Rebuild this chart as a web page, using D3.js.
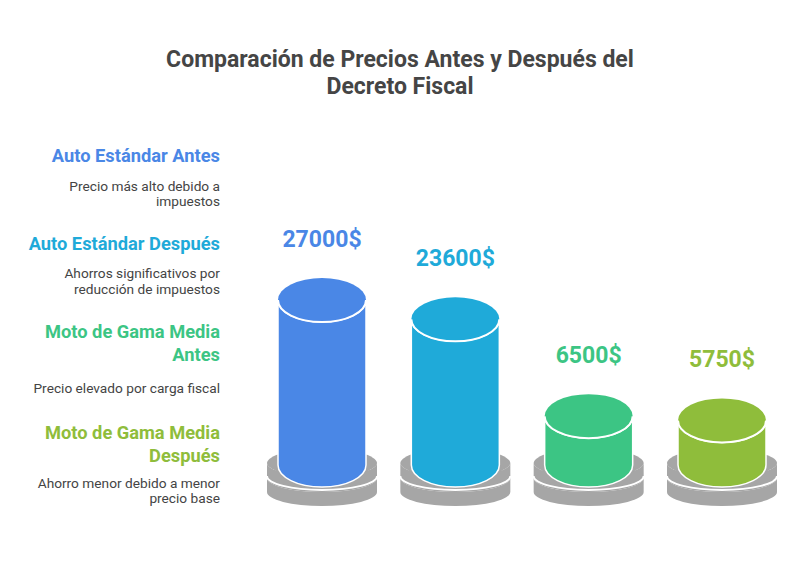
<!DOCTYPE html>
<html><head><meta charset="utf-8">
<script src="https://cdn.jsdelivr.net/npm/d3@7"></script>
<style>body{margin:0;background:#fff;}svg{display:block;font-family:Roboto,"Open Sans",sans-serif;}</style>
</head><body>
<svg id="c" width="800" height="578"></svg>
<script>
const categories = ["Auto Estándar Antes","Auto Estándar Después","Moto de Gama Media Antes","Moto de Gama Media Después"];
const titleLines = [["Auto Estándar Antes"],["Auto Estándar Después"],["Moto de Gama Media","Antes"],["Moto de Gama Media","Después"]];
const descLines = [["Precio más alto debido a","impuestos"],["Ahorros significativos por","reducción de impuestos"],["Precio elevado por carga fiscal"],["Ahorro menor debido a menor","precio base"]];
const values = [27000, 23600, 6500, 5750];
const valueLabels = ["27000$","23600$","6500$","5750$"];
const colors = ["#4A87E6","#1FAAD9","#3CC584","#8FBD3B"];
const titleText = ["Comparación de Precios Antes y Después del","Decreto Fiscal"];

const svg = d3.select("#c");
svg.append("rect").attr("width",800).attr("height",578).attr("fill","#fff");

// title
svg.append("text").attr("text-anchor","middle").attr("fill","#454545")
  .attr("font-size",23).attr("font-weight",700)
  .selectAll("tspan").data(titleText).join("tspan")
  .attr("x",400).attr("y",(d,i)=>67+i*27).text(d=>d);

// legend
const titleY = [[162],[250],[338,361],[439,462]];
const descY = [[191,206],[278,294],[393],[488,503]];
const leg = svg.append("g");
categories.forEach((c,i)=>{
  titleLines[i].forEach((t,j)=>{
    leg.append("text").attr("x",220).attr("y",titleY[i][j]).attr("text-anchor","end")
      .attr("font-size",18.3).attr("font-weight",700).attr("fill",colors[i]).text(t);
  });
  descLines[i].forEach((t,j)=>{
    leg.append("text").attr("x",220).attr("y",descY[i][j]).attr("text-anchor","end")
      .attr("font-size",13.7).attr("fill","#444").text(t);
  });
});

// scales
const x = d3.scalePoint().domain(categories).range([322,722]);
const h = d3.scaleLinear().domain([0,27000]).range([12,165]);

const rx = 44, ry = 22, baseCy = 465;
const brx = 55, bry = 14;

function bodyPath(cx, rx, ry, yTop, yBot){
  return `M${cx-rx},${yTop} L${cx-rx},${yBot} A${rx},${ry} 0 0 0 ${cx+rx},${yBot} L${cx+rx},${yTop} A${rx},${ry} 0 0 1 ${cx-rx},${yTop} Z`;
}
function frontArc(cx, rx, ry, y){
  return `M${cx-rx},${y} A${rx},${ry} 0 0 0 ${cx+rx},${y}`;
}

const g = svg.append("g");
categories.forEach((c,i)=>{
  const cx = x(c);
  // lower disc
  g.append("path").attr("d",bodyPath(cx,brx,bry,478,492)).attr("fill","#A6A6A6");
  g.append("ellipse").attr("cx",cx).attr("cy",478).attr("rx",brx).attr("ry",bry).attr("fill","#A6A6A6");
  // upper disc
  g.append("path").attr("d",bodyPath(cx,brx,bry,463,476)).attr("fill","#A6A6A6");
  g.append("ellipse").attr("cx",cx).attr("cy",463).attr("rx",brx).attr("ry",bry).attr("fill","#A6A6A6");
  g.append("path").attr("d",frontArc(cx,brx,bry,476)).attr("fill","none").attr("stroke","#fff").attr("stroke-width",2);
  // cylinder
  const yTop = baseCy - h(values[i]);
  g.append("path").attr("d",bodyPath(cx,rx,ry,yTop,baseCy)).attr("fill",colors[i])
    .attr("stroke","#fff").attr("stroke-width",1.5);
  g.append("ellipse").attr("cx",cx).attr("cy",yTop).attr("rx",rx).attr("ry",ry).attr("fill",colors[i]);
  g.append("path").attr("d",frontArc(cx,rx,ry,yTop)).attr("fill","none").attr("stroke","#fff").attr("stroke-width",2);
  // value label
  g.append("text").attr("x",cx).attr("y",yTop-ry-31).attr("text-anchor","middle")
    .attr("font-size",23).attr("font-weight",700).attr("fill",colors[i]).text(valueLabels[i]);
});
</script>
</body></html>
